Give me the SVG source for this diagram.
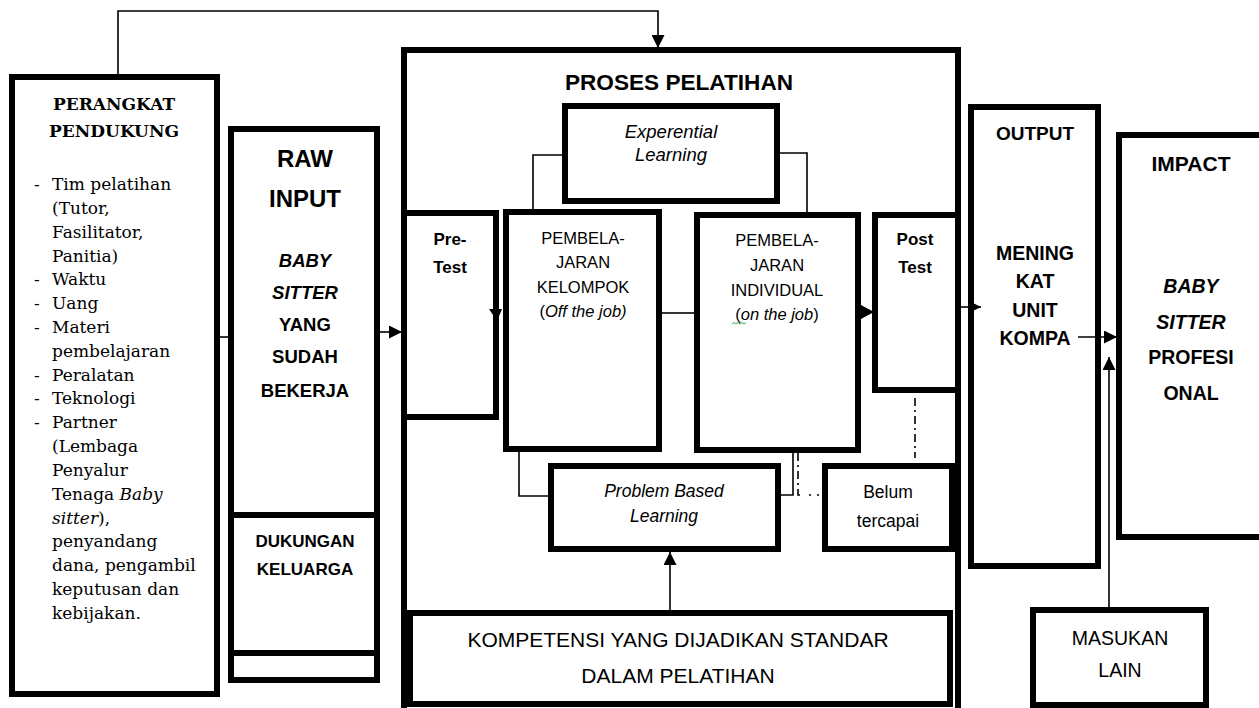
<svg xmlns="http://www.w3.org/2000/svg" width="1259" height="708" viewBox="0 0 1259 708">
<style>
.box{fill:#fff;stroke:#000;stroke-width:6}
.ln{fill:none;stroke:#000;stroke-width:1.6}
.dd{fill:none;stroke:#000;stroke-width:1.6;stroke-dasharray:8 4 2 4}
.s{font-family:"Liberation Sans",Arial,sans-serif;fill:#000;text-anchor:middle}
.b{font-weight:bold}
.i{font-style:italic}
.sf{font-family:"DejaVu Serif",serif;fill:#000;font-size:17px}
</style>
<defs>
<marker id="arr" viewBox="0 0 10 10" refX="10" refY="5" markerWidth="13" markerHeight="13" markerUnits="userSpaceOnUse" orient="auto"><path d="M0,0 L10,5 L0,10z" fill="#000"/></marker>
</defs>
<rect width="1259" height="708" fill="#fff"/>

<g id="perangkat">
<rect class="box" x="12" y="77" width="205" height="617"/>
<text class="sf" x="114" y="110" text-anchor="middle" font-weight="bold" font-size="16.3">PERANGKAT</text>
<text class="sf" x="114" y="137" text-anchor="middle" font-weight="bold" font-size="16.3">PENDUKUNG</text>
<g class="sf">
<text x="34" y="190">-</text><text x="52" y="190">Tim pelatihan</text>
<text x="52" y="214">(Tutor,</text>
<text x="52" y="238">Fasilitator,</text>
<text x="52" y="262">Panitia)</text>
<text x="34" y="285">-</text><text x="52" y="285">Waktu</text>
<text x="34" y="309">-</text><text x="52" y="309">Uang</text>
<text x="34" y="333">-</text><text x="52" y="333">Materi</text>
<text x="52" y="357">pembelajaran</text>
<text x="34" y="381">-</text><text x="52" y="381">Peralatan</text>
<text x="34" y="404">-</text><text x="52" y="404">Teknologi</text>
<text x="34" y="428">-</text><text x="52" y="428">Partner</text>
<text x="52" y="452">(Lembaga</text>
<text x="52" y="476">Penyalur</text>
<text x="52" y="500">Tenaga <tspan font-style="italic">Baby</tspan></text>
<text x="52" y="524"><tspan font-style="italic">sitter</tspan>),</text>
<text x="52" y="547">penyandang</text>
<text x="52" y="571">dana, pengambil</text>
<text x="52" y="595">keputusan dan</text>
<text x="52" y="619">kebijakan.</text>
</g>
</g>

<g id="raw-input">
<rect class="box" x="231" y="129" width="146" height="386"/>
<text class="s b" x="305" y="167" font-size="24">RAW</text>
<text class="s b" x="305" y="207" font-size="24">INPUT</text>
<text class="s b i" x="305" y="267" font-size="18.5">BABY</text>
<text class="s b i" x="305" y="299" font-size="18.5">SITTER</text>
<text class="s b" x="305" y="331" font-size="18.5">YANG</text>
<text class="s b" x="305" y="363" font-size="18.5">SUDAH</text>
<text class="s b" x="305" y="397" font-size="18.5">BEKERJA</text>
</g>
<g id="dukungan">
<rect class="box" x="231" y="515" width="146" height="138"/>
<text class="s b" x="305" y="547" font-size="17">DUKUNGAN</text>
<text class="s b" x="305" y="575" font-size="17">KELUARGA</text>
</g>
<g id="raw-bottom">
<rect class="box" x="231" y="653" width="146" height="27"/>
</g>

<g id="proses">
<path class="box" d="M404 712 V50 H958 V712"/>
<text class="s b" x="679" y="90" font-size="22.6">PROSES PELATIHAN</text>
</g>

<g id="experiential">
<rect class="box" x="565" y="106" width="212" height="95"/>
<text class="s i" x="671" y="138" font-size="18.5">Experential</text>
<text class="s i" x="671" y="161" font-size="18.5">Learning</text>
</g>

<g id="pretest">
<rect class="box" x="404" y="213" width="92" height="204"/>
<text class="s b" x="450" y="245" font-size="17">Pre-</text>
<text class="s b" x="450" y="273" font-size="17">Test</text>
</g>

<g id="kelompok">
<rect class="box" x="506" y="212" width="153" height="237"/>
<text class="s" x="583" y="244" font-size="16.5">PEMBELA-</text>
<text class="s" x="583" y="268" font-size="16.5">JARAN</text>
<text class="s" x="583" y="293" font-size="16.5">KELOMPOK</text>
<text class="s" x="583" y="317" font-size="16.5">(<tspan font-style="italic">Off the job)</tspan></text>
</g>

<g id="individual">
<rect class="box" x="697" y="215" width="161" height="235"/>
<text class="s" x="777" y="246" font-size="16.5">PEMBELA-</text>
<text class="s" x="777" y="271" font-size="16.5">JARAN</text>
<text class="s" x="777" y="296" font-size="16.5">INDIVIDUAL</text>
<text class="s" x="777" y="320" font-size="16.5">(<tspan font-style="italic">on the job</tspan>)</text>
<path d="M732 324 l2 -1.5 l2 1.5 l2 -1.5 l2 1.5 l2 -1.5 l2 1.5 l2 -1.5" fill="none" stroke="#2a9d3a" stroke-width="0.9"/>
</g>

<g id="posttest">
<rect class="box" x="875" y="215" width="83" height="175"/>
<text class="s b" x="915" y="245" font-size="17">Post</text>
<text class="s b" x="915" y="273" font-size="17">Test</text>
</g>

<g id="pbl">
<rect class="box" x="551" y="466" width="227" height="83"/>
<text class="s i" x="664" y="497" font-size="17.5">Problem Based</text>
<text class="s i" x="664" y="522" font-size="17.5">Learning</text>
</g>

<g id="belum">
<rect class="box" x="825" y="466" width="127" height="83"/>
<text class="s" x="888" y="498" font-size="17.5">Belum</text>
<text class="s" x="888" y="527" font-size="17.5">tercapai</text>
</g>

<g id="kompetensi">
<rect class="box" x="410" y="613" width="540" height="91"/>
<text class="s" x="678" y="647" font-size="21">KOMPETENSI YANG DIJADIKAN STANDAR</text>
<text class="s" x="678" y="683" font-size="21">DALAM PELATIHAN</text>
</g>

<g id="output">
<rect class="box" x="971" y="107" width="127" height="459"/>
<text class="s b" x="1035" y="140" font-size="19">OUTPUT</text>
<text class="s b" x="1035" y="260" font-size="19.5">MENING</text>
<text class="s b" x="1035" y="288" font-size="19.5">KAT</text>
<text class="s b" x="1035" y="317" font-size="19.5">UNIT</text>
<text class="s b" x="1035" y="345" font-size="19.5">KOMPA</text>
</g>

<g id="impact">
<path class="box" d="M1265 135 H1119 V537 H1265"/>
<text class="s b" x="1191" y="171" font-size="21">IMPACT</text>
<text class="s b i" x="1191" y="293" font-size="19.5">BABY</text>
<text class="s b i" x="1191" y="329" font-size="19.5">SITTER</text>
<text class="s b" x="1191" y="364" font-size="19.5">PROFESI</text>
<text class="s b" x="1191" y="400" font-size="19.5">ONAL</text>
</g>

<g id="masukan">
<rect class="box" x="1033" y="610" width="173" height="95"/>
<text class="s" x="1120" y="645" font-size="19.5">MASUKAN</text>
<text class="s" x="1120" y="677" font-size="19.5">LAIN</text>
</g>

<g id="connectors">
<path class="ln" d="M118 74 V11 H658 V48" marker-end="url(#arr)"/>
<path class="ln" d="M220 337 H228"/>
<path class="ln" d="M380 332 H402" marker-end="url(#arr)"/>
<path class="ln" d="M565 155 H533 V209"/>
<path class="ln" d="M777 153 H807 V212"/>
<path class="ln" d="M662 313 H694"/>
<polygon points="489,309 502,309 497,321" fill="#000"/>
<polygon points="861,305 861,319 874,312" fill="#000"/>
<path class="ln" d="M519 452 V496 H548"/>
<path class="ln" d="M781 495 H793 V453"/>
<path class="dd" d="M798 453 V495 H804"/>
<path d="M809 495 h2 M817 495 h2" stroke="#000" stroke-width="1.6"/>
<path class="dd" d="M915 398 V458"/>
<path class="ln" d="M958 307 H981" marker-end="url(#arr)"/>
<path class="ln" d="M670 613 V552" marker-end="url(#arr)"/>
<path class="ln" d="M1078 337 H1117" marker-end="url(#arr)"/>
<path class="ln" d="M1109 607 V357" marker-end="url(#arr)"/>
</g>
</svg>
